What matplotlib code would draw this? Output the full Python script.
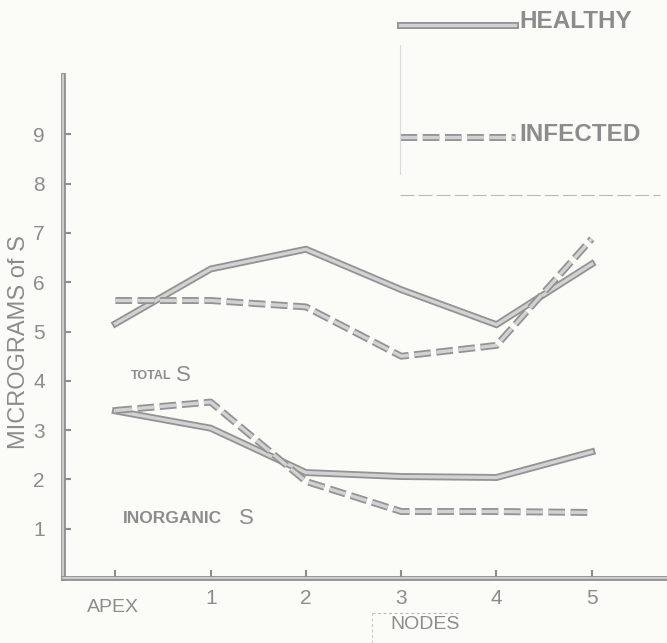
import matplotlib
matplotlib.use("Agg")
import matplotlib.pyplot as plt
import matplotlib.patheffects as pe
import matplotlib.transforms as mtransforms
from matplotlib.lines import Line2D

# sulphur content along the stem, healthy vs infected plants
nodes = [0, 1, 2, 3, 4, 5]
node_labels = ["APEX", "1", "2", "3", "4", "5"]
total_healthy = [5.16, 6.27, 6.67, 5.85, 5.14, 6.37]
total_infected = [5.63, 5.63, 5.50, 4.50, 4.72, 6.88]
inorg_healthy = [3.39, 3.04, 2.14, 2.06, 2.04, 2.56]
inorg_infected = [3.40, 3.57, 1.96, 1.35, 1.35, 1.33]
y_ticks = [1, 2, 3, 4, 5, 6, 7, 8, 9]

plt.rcParams["font.family"] = ["Liberation Sans", "DejaVu Sans"]
plt.rcParams["lines.scale_dashes"] = False

ink = "#8c8c8c"
line_dark = "#939393"
line_light = "#d2d2d2"
paper = "#fbfbf7"

# drawn lines look like hollow pen strokes: dark edge, light core
pen = [pe.Stroke(linewidth=5, foreground=line_dark), pe.Stroke(linewidth=2.4, foreground=line_light)]

fig = plt.figure(figsize=(6.67, 6.43), dpi=100, facecolor=paper)
ax = fig.add_axes([0.0945, 0.101, 0.9055, 0.782])
ax.set_facecolor(paper)

dash = (0, (12, 4))
ax.plot(nodes, total_healthy, color=line_dark, lw=4, solid_joinstyle="miter", path_effects=pen)
ax.plot(nodes, inorg_healthy, color=line_dark, lw=4, solid_joinstyle="miter", path_effects=pen)
ax.plot(nodes, total_infected, color=line_dark, lw=4, linestyle=dash, path_effects=pen)
ax.plot(nodes, inorg_infected, color=line_dark, lw=4, linestyle=dash, path_effects=pen)

ax.set_xlim(-0.55, 5.79)
ax.set_ylim(0, 10.2)

for side in ["top", "right"]:
    ax.spines[side].set_visible(False)
for side in ["left", "bottom"]:
    ax.spines[side].set_color(line_dark)
    ax.spines[side].set_linewidth(3)
    ax.spines[side].set_path_effects([pe.Stroke(linewidth=3.5, foreground=line_dark),
                                      pe.Stroke(linewidth=1.2, foreground="#d8d8d8")])

ax.set_yticks(y_ticks)
ax.set_yticklabels([str(v) for v in y_ticks])
ax.set_xticks(nodes)
ax.set_xticklabels(node_labels)
ax.tick_params(axis="both", direction="in", length=6, width=1.5, color=ink, labelcolor=ink, labelsize=15)
ax.tick_params(axis="y", pad=13)
ax.tick_params(axis="x", pad=8)

# APEX sits a little lower than the node numbers
apex = ax.get_xticklabels()[0]
apex.set_transform(apex.get_transform() + mtransforms.ScaledTranslation(-0.02, -0.1, fig.dpi_scale_trans))
apex.set_fontsize(14)

ax.set_ylabel("MICROGRAMS of S", color=ink, fontsize=17)
ax.yaxis.label.set_va("center")
ax.yaxis.set_label_coords(-0.073, 0.47)

ax.text(0.16, 4.1, "TOTAL", color=ink, fontsize=9, fontweight="bold", va="center")
ax.text(0.64, 4.1, "S", color=ink, fontsize=16, va="center")
ax.text(0.08, 1.2, "INORGANIC", color=ink, fontsize=12.5, fontweight="bold", va="center")
ax.text(1.30, 1.2, "S", color=ink, fontsize=16, va="center")

# NODES caption with its loose dotted frame
fig.text(0.638, 0.016, "NODES", color=ink, fontsize=14, ha="center", va="bottom")
fig.add_artist(Line2D([0.558, 0.69], [0.047, 0.047], transform=fig.transFigure,
                      color="#b8b8b8", lw=0.8, linestyle=(0, (2, 2))))
fig.add_artist(Line2D([0.558, 0.558], [0.0, 0.047], transform=fig.transFigure,
                      color="#c8c8c8", lw=0.8, linestyle=(0, (2, 2))))

# hand-made key in the upper right corner
fig.add_artist(Line2D([0.6, 0.772], [0.961, 0.961], transform=fig.transFigure,
                      color=line_dark, lw=4, path_effects=pen))
fig.text(0.778, 0.967, "HEALTHY", color=ink, fontsize=17.5, fontweight="bold", va="center")
fig.add_artist(Line2D([0.6, 0.772], [0.787, 0.787], transform=fig.transFigure,
                      color=line_dark, lw=4, linestyle=dash, path_effects=pen))
fig.text(0.778, 0.791, "INFECTED", color=ink, fontsize=17.5, fontweight="bold", va="center")
fig.add_artist(Line2D([0.6, 0.6], [0.73, 0.93], transform=fig.transFigure, color="#dadada", lw=0.8))
fig.add_artist(Line2D([0.6, 0.99], [0.697, 0.697], transform=fig.transFigure,
                      color="#b8b8b8", lw=0.8, linestyle=(0, (10, 3))))

fig.savefig("out.png", dpi=100, facecolor=paper)
